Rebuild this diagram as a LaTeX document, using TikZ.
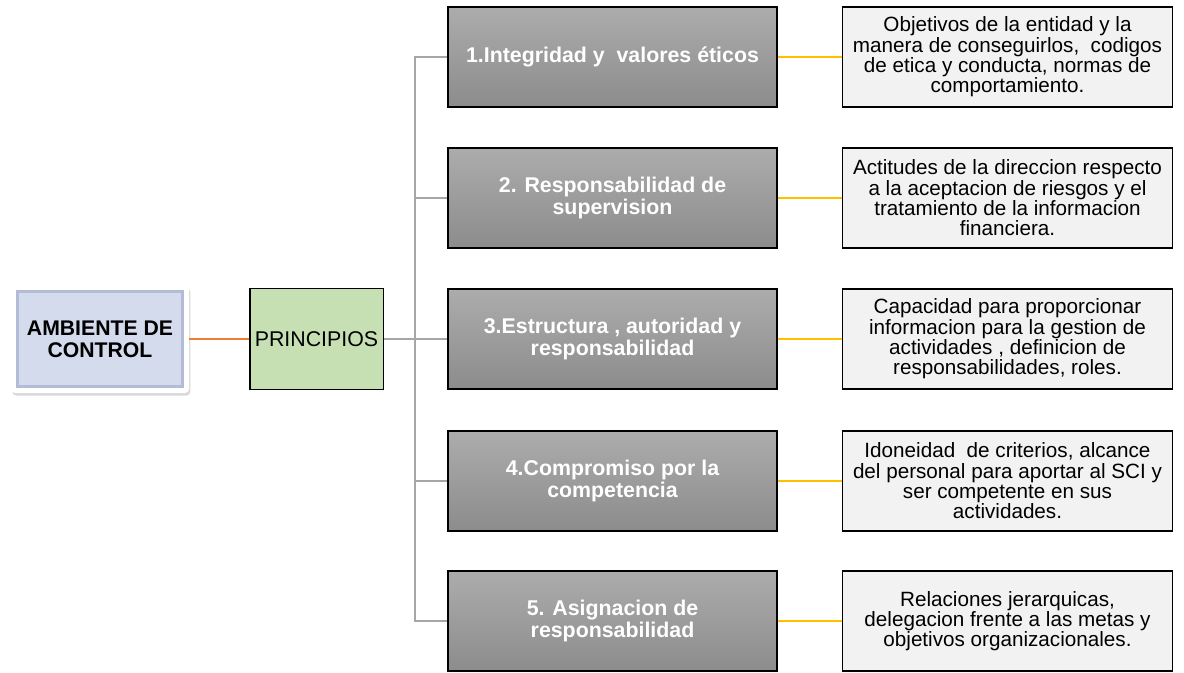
\documentclass[tikz,border=0pt]{standalone}
\usepackage{fontspec}
\setmainfont{Liberation Sans}
\usepackage{tikz}
\usetikzlibrary{positioning,shadows}
\definecolor{ambblue}{RGB}{212,219,236}
\definecolor{ambedge}{RGB}{178,188,214}
\definecolor{princgreen}{RGB}{198,224,180}
\definecolor{boxtop}{RGB}{172,172,172}
\definecolor{boxbot}{RGB}{140,140,140}
\definecolor{descfill}{RGB}{242,242,242}
\definecolor{lineorange}{RGB}{237,125,49}
\definecolor{linegray}{RGB}{166,166,166}
\definecolor{lineyellow}{RGB}{255,192,0}

\begin{document}
\begin{tikzpicture}[x=0.75pt, y=-0.75pt,
      ambframe/.style={rectangle, rounded corners=3pt, fill=white, minimum width=133.5pt, minimum height=81pt, drop shadow={opacity=0.3, shadow xshift=1pt, shadow yshift=-2pt}},
      ambbox/.style={rectangle, fill=ambblue, draw=ambedge, line width=2.5pt, minimum width=124pt, minimum height=71pt, inner sep=1pt, align=center, font=\fontsize{15.9}{16.5}\selectfont\bfseries},
      princbox/.style={rectangle, fill=princgreen, draw=black, line width=1pt, minimum width=100pt, minimum height=76pt, inner sep=1pt, font=\fontsize{16}{17}\selectfont},
      princ/.style={rectangle, top color=boxtop, bottom color=boxbot, draw=black, line width=1.1pt, minimum width=247pt, minimum height=75pt, inner sep=1pt, align=center, text=white, font=\fontsize{16}{16.3}\selectfont\bfseries},
      desc/.style={rectangle, fill=descfill, draw=black, line width=1.1pt, minimum width=247.5pt, minimum height=75pt, inner sep=1pt, align=center, font=\fontsize{15.5}{15.2}\selectfont},
      orangeline/.style={lineorange, line width=0.8pt},
      grayline/.style={linegray, line width=1.1pt},
      yelline/.style={lineyellow, line width=1.1pt}
    ]
      \useasboundingbox (0,0) rectangle (1184,673);

      % Left: root and principles
      \node[ambframe] (ambout) at (100,339) {};
      \node[ambbox] (amb) at (100,339) {AMBIENTE DE\\CONTROL};
      \node[princbox] (princ) at (316.5,339) {PRINCIPIOS};
      \coordinate (trunk) at (415,339);

      % Center: the five principles
      \node[princ] (p1) at (612.5,57) {1.Integridad y\ \ valores éticos};
      \node[princ] (p2) at (612.5,198) {2. Responsabilidad de\\supervision};
      \node[princ] (p3) at (612.5,339) {3.Estructura , autoridad y\\responsabilidad};
      \node[princ] (p4) at (612.5,481) {4.Compromiso por la\\competencia};
      \node[princ] (p5) at (612.5,621) {5. Asignacion de\\responsabilidad};

      % Right: descriptions
      \node[desc] (d1) at (1007.5,57) {Objetivos de la entidad y la\\manera de conseguirlos,\ \ codigos\\de etica y conducta, normas de\\comportamiento.};
      \node[desc] (d2) at (1007.5,198) {Actitudes de la direccion respecto\\a la aceptacion de riesgos y el\\tratamiento de la informacion\\financiera.};
      \node[desc] (d3) at (1007.5,339) {Capacidad para proporcionar\\informacion para la gestion de\\actividades , definicion de\\responsabilidades, roles.};
      \node[desc] (d4) at (1007.5,481) {Idoneidad\ \ de criterios, alcance\\del personal para aportar al SCI y\\ser competente en sus\\actividades.};
      \node[desc] (d5) at (1007.5,621) {Relaciones jerarquicas,\\delegacion frente a las metas y\\objetivos organizacionales.};

      % Paths
      \draw[orangeline] (ambout.east) -- (princ.west);
      \draw[grayline] (princ.east) -- (trunk);
      \draw[grayline] (trunk) |- (p1.west);
      \draw[grayline] (trunk) |- (p2.west);
      \draw[grayline] (trunk) -- (p3.west);
      \draw[grayline] (trunk) |- (p4.west);
      \draw[grayline] (trunk) |- (p5.west);
      \draw[yelline] (p1.east) -- (d1.west);
      \draw[yelline] (p2.east) -- (d2.west);
      \draw[yelline] (p3.east) -- (d3.west);
      \draw[yelline] (p4.east) -- (d4.west);
      \draw[yelline] (p5.east) -- (d5.west);
    \end{tikzpicture}
\end{document}
